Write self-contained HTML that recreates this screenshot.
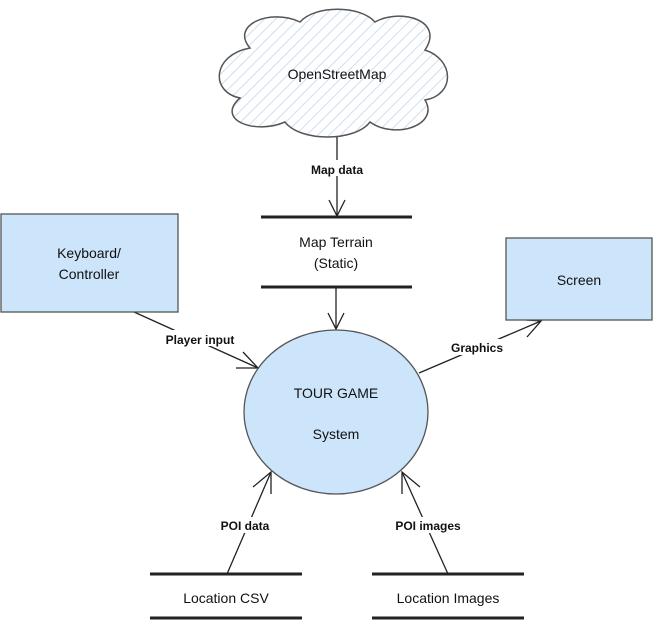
<!DOCTYPE html>
<html><head><style>body{margin:0;background:#fff}svg{display:block}text{font-family:"Liberation Sans",Arial,sans-serif;fill:#111}</style></head><body>
<svg width="654" height="621" viewBox="0 0 654 621">
<defs>
<pattern id="h" width="8" height="8" patternUnits="userSpaceOnUse" patternTransform="rotate(45)">
<rect width="8" height="8" fill="#fff"/><line x1="0" y1="0" x2="0" y2="8" stroke="#b9d6f2" stroke-width="1.5"/></pattern>
</defs>
<path d="M250,48 C230,25 270,8 300,22 C315,5 360,5 375,22 C400,8 445,20 425,50 C455,60 455,95 425,100 C440,125 395,140 370,122 C355,142 300,142 285,122 C255,135 215,120 240,98 C210,92 212,55 250,48 Z" fill="url(#h)" stroke="#555" stroke-width="1.5"/>
<text x="337" y="79" font-size="14" text-anchor="middle">OpenStreetMap</text>
<g stroke="#222" stroke-width="1.3" fill="none">
<line x1="337" y1="137" x2="337" y2="216"/><polyline points="329,200 337,216 345,200"/>
<line x1="336" y1="287" x2="336" y2="329"/><polyline points="328,313 336,329 344,313"/>
<line x1="134" y1="312" x2="258" y2="368"/><polyline points="243,352 258,368 236,368"/>
<line x1="419" y1="373" x2="541" y2="321"/><polyline points="526,320 541,321 527,337"/>
<line x1="227" y1="574" x2="271" y2="472"/><polyline points="253,487 271,472 271,494"/>
<line x1="448" y1="574" x2="402" y2="472"/><polyline points="402,494 402,472 420,487"/>
</g>
<g stroke="#222" stroke-width="3">
<line x1="261" y1="217" x2="412" y2="217"/><line x1="261" y1="287" x2="412" y2="287"/>
<line x1="150" y1="574" x2="302" y2="574"/><line x1="150" y1="618" x2="302" y2="618"/>
<line x1="372" y1="574" x2="524" y2="574"/><line x1="372" y1="618" x2="524" y2="618"/>
</g>
<g font-size="12" font-weight="bold" text-anchor="middle">
<rect x="303" y="160" width="68" height="16" fill="#fff"/><text x="337" y="174">Map data</text>
<rect x="158" y="330" width="84" height="16" fill="#fff"/><text x="200" y="344">Player input</text>
<rect x="445" y="339" width="64" height="16" fill="#fff"/><text x="477" y="352">Graphics</text>
<rect x="215" y="517" width="60" height="16" fill="#fff"/><text x="245" y="530">POI data</text>
<rect x="390" y="517" width="76" height="16" fill="#fff"/><text x="428" y="530">POI images</text>
</g>
<rect x="1" y="214" width="177" height="98" fill="#cce5fb" stroke="#555" stroke-width="1.3"/>
<rect x="506" y="238" width="146" height="82" fill="#cce5fb" stroke="#555" stroke-width="1.3"/>
<ellipse cx="336" cy="412" rx="92" ry="82" fill="#cce5fb" stroke="#555" stroke-width="1.3"/>
<g font-size="14" text-anchor="middle">
<text x="89" y="258">Keyboard/</text><text x="89" y="279">Controller</text>
<text x="579" y="285">Screen</text>
<text x="336" y="398">TOUR GAME</text><text x="336" y="439">System</text>
<text x="336" y="247">Map Terrain</text><text x="336" y="268">(Static)</text>
<text x="226" y="603">Location CSV</text><text x="448" y="603">Location Images</text>
</g>
</svg>
</body></html>
